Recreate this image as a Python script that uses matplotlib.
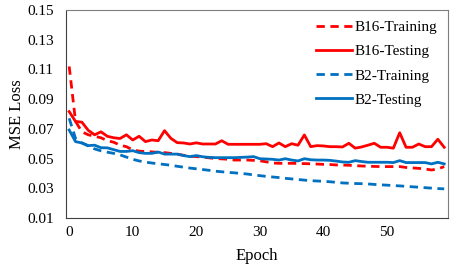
import numpy as np
import matplotlib
matplotlib.use('Agg')
import matplotlib.pyplot as plt

plt.rcParams['font.family'] = ['Liberation Serif', 'DejaVu Serif']

epochs = np.arange(60)

b16_train = [0.112, 0.075, 0.068, 0.066, 0.065, 0.064, 0.062, 0.061, 0.059, 0.058,
             0.0558, 0.055, 0.0548, 0.0545, 0.0542, 0.054, 0.0535, 0.053, 0.0522, 0.0516,
             0.0513, 0.051, 0.0505, 0.050, 0.0498, 0.0495, 0.049, 0.049, 0.049, 0.0488,
             0.0485, 0.0478, 0.047, 0.0468, 0.0468, 0.0468, 0.0467, 0.0466, 0.0465, 0.0463,
             0.0461, 0.046, 0.0457, 0.0456, 0.0455, 0.0452, 0.045, 0.0448, 0.0447, 0.0446,
             0.0446, 0.0446, 0.0446, 0.044, 0.0437, 0.0434, 0.043, 0.0423, 0.043, 0.0446]

b16_test = [0.0816, 0.075, 0.0745, 0.069, 0.066, 0.068, 0.065, 0.064, 0.0635, 0.066,
            0.0625, 0.065, 0.0614, 0.0625, 0.062, 0.0688, 0.0636, 0.0607, 0.0605, 0.0598,
            0.0606, 0.0598, 0.0598, 0.0598, 0.062, 0.0596, 0.0596, 0.0596, 0.0596, 0.0596,
            0.0596, 0.060, 0.058, 0.0605, 0.058, 0.060, 0.059, 0.0659, 0.058, 0.0587,
            0.0585, 0.058, 0.058, 0.0578, 0.0603, 0.057, 0.0578, 0.059, 0.0603, 0.0576,
            0.0576, 0.057, 0.0674, 0.0576, 0.0576, 0.0598, 0.058, 0.058, 0.063, 0.0576]

b2_train = [0.0771, 0.0635, 0.0605, 0.0585, 0.0565, 0.0552, 0.0543, 0.0535, 0.0525, 0.051,
            0.0495, 0.0484, 0.0476, 0.047, 0.0465, 0.046, 0.0455, 0.0448, 0.0442, 0.0436,
            0.0431, 0.0426, 0.0421, 0.0415, 0.0411, 0.0407, 0.0404, 0.040, 0.0396, 0.039,
            0.0385, 0.038, 0.0376, 0.0372, 0.0367, 0.0363, 0.0359, 0.0355, 0.0351, 0.0349,
            0.0347, 0.0344, 0.034, 0.0336, 0.0334, 0.0332, 0.0331, 0.0329, 0.0326, 0.0323,
            0.0321, 0.0318, 0.0316, 0.0313, 0.031, 0.0307, 0.0304, 0.0301, 0.0298, 0.0296]

b2_test = [0.0692, 0.0614, 0.0605, 0.0587, 0.059, 0.0573, 0.0572, 0.056, 0.0548, 0.0548,
           0.0553, 0.054, 0.0535, 0.0535, 0.0544, 0.053, 0.053, 0.053, 0.052, 0.0513,
           0.052, 0.0512, 0.0508, 0.0506, 0.0506, 0.0506, 0.0506, 0.0508, 0.051, 0.0513,
           0.0499, 0.0497, 0.0495, 0.049, 0.0499, 0.049, 0.0484, 0.0499, 0.0492, 0.049,
           0.049, 0.0488, 0.0483, 0.0477, 0.0475, 0.0486, 0.048, 0.0475, 0.0475, 0.0475,
           0.0475, 0.0473, 0.0486, 0.0473, 0.0473, 0.0473, 0.0473, 0.0464, 0.0475, 0.0464]

yticks = [0.01, 0.03, 0.05, 0.07, 0.09, 0.11, 0.13, 0.15]
xticks = [0, 10, 20, 30, 40, 50]

red = '#FF0000'
blue = '#0070C0'

fig = plt.figure(figsize=(4.54, 2.66), dpi=100)
ax = fig.add_axes([0.1454, 0.1805, 0.8414, 0.7819])

ax.plot(epochs, b16_train, color=red, lw=2, ls=(0, (3, 2)), label='B16-Training')
ax.plot(epochs, b16_test, color=red, lw=2, label='B16-Testing')
ax.plot(epochs, b2_train, color=blue, lw=2, ls=(0, (3, 2)), label='B2-Training')
ax.plot(epochs, b2_test, color=blue, lw=2, label='B2-Testing')

ax.set_xlim(-0.5, 59.6)
ax.set_ylim(0.01, 0.15)
ax.set_yticks(yticks)
ax.set_yticklabels(['%.2f' % v for v in yticks])
ax.set_xticks(xticks)
ax.tick_params(axis='y', length=0, labelsize=11, pad=9)
ax.tick_params(axis='x', length=0, labelsize=11, pad=6)
ax.set_xlabel('Epoch', fontsize=12, labelpad=6)
ax.set_ylabel('MSE Loss', fontsize=12, labelpad=1)

for s in ax.spines.values():
    s.set_color('#7f7f7f')
    s.set_linewidth(0.8)
ax.spines['left'].set_color('#404040')
ax.spines['bottom'].set_color('#404040')

ax.legend(loc='upper right', frameon=False, fontsize=11, handlelength=2.3,
          handletextpad=0.2, labelspacing=0.68, borderaxespad=0.3)

fig.savefig('out.png', dpi=100)
